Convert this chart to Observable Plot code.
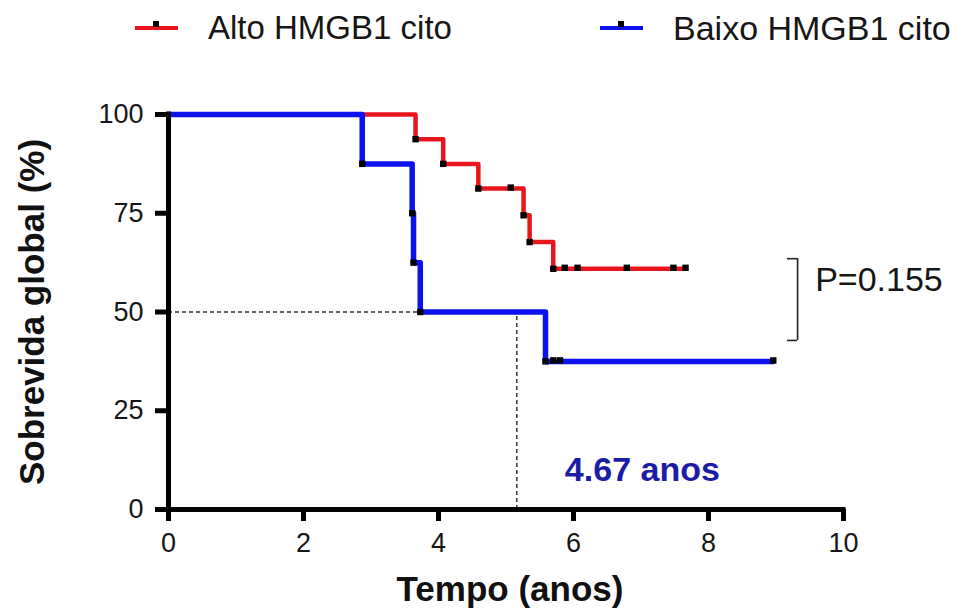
<!DOCTYPE html>
<html><head><meta charset="utf-8">
<script src="https://cdn.jsdelivr.net/npm/d3@7"></script>
<script src="https://cdn.jsdelivr.net/npm/@observablehq/plot@0.6"></script>
<style>
body{margin:0;background:#fff;font-family:"Liberation Sans",Arial,sans-serif;}
#legend{position:relative;height:60px;width:965px;}
.item{position:absolute;top:0;height:56px;display:flex;align-items:center;font-size:33px;color:#161616;white-space:nowrap;}
.sw{position:relative;width:43px;height:4px;margin-right:30px;}
.sw i{position:absolute;left:18px;top:-5px;width:6px;height:6px;background:#000;}
</style></head>
<body>
<div id="legend"></div>
<div id="chart"></div>
<script>
// ---- data ----
const seriesNames = ["Alto HMGB1 cito", "Baixo HMGB1 cito"];
const seriesColors = ["#e8161c", "#0b12ee"];
// Alto HMGB1 cito: step curve (time in years, survival %)
const altoTime = [0, 3.66, 4.07, 4.59, 5.26, 5.35, 5.70, 7.66];
const altoSurv = [100, 93.75, 87.5, 81.25, 74.48, 67.71, 60.94, 60.94];
const altoCensorTime = [5.07, 5.87, 6.06, 6.79, 7.48, 7.66];
const altoCensorSurv = [81.25, 60.94, 60.94, 60.94, 60.94, 60.94];
// Baixo HMGB1 cito
const baixoTime = [0, 2.87, 3.61, 3.63, 3.73, 5.585, 8.96];
const baixoSurv = [100, 87.5, 75, 62.5, 50, 37.5, 37.5];
const baixoCensorTime = [5.70, 5.80, 8.96];
const baixoCensorSurv = [37.5, 37.5, 37.5];
// median reference lines
const medianLevel = [50];
const medianHLineEnd = [3.73];
const medianVLineX = [5.16];
// annotations
const pText = ["P=0.155"];
const pBracketX = [9.32];
const pBracketY = [42.8, 63.5];
const pBracketTickX = [9.17];
const pTextPos = [9.58, 58];
const medianText = ["4.67 anos"];
const medianTextPos = [7.02, 9.9];
// axes
const xTicks = [0, 2, 4, 6, 8, 10];
const yTicks = [0, 25, 50, 75, 100];
const xTitle = "Tempo (anos)";
const yTitle = "Sobrevida global (%)";

// ---- legend ----
const legend = document.getElementById("legend");
const legendLeft = [135, 600];
seriesNames.forEach((n, i) => {
  const d = document.createElement("div");
  d.className = "item";
  d.style.left = legendLeft[i] + "px";
  d.style.fontSize = i === 0 ? "33px" : "34px";
  d.innerHTML = `<span class="sw" style="background:${seriesColors[i]}"><i></i></span><span>${n}</span>`;
  legend.appendChild(d);
});

// ---- tables ----
const alto = altoTime.map((t, i) => ({t, s: altoSurv[i]}));
const baixo = baixoTime.map((t, i) => ({t, s: baixoSurv[i]}));
const events = [
  ...alto.slice(1, -1),
  ...baixo.slice(1, -1)
];
const censors = [
  ...altoCensorTime.map((t, i) => ({t, s: altoCensorSurv[i]})),
  ...baixoCensorTime.map((t, i) => ({t, s: baixoCensorSurv[i]}))
];
const dashed = {stroke: "#333", strokeWidth: 1.5, strokeDasharray: "4,3"};

const chart = Plot.plot({
  width: 965, height: 552,
  marginLeft: 168, marginRight: 122, marginTop: 54, marginBottom: 103,
  x: {domain: [0, 10]},
  y: {domain: [0, 100]},
  style: {fontFamily: "'Liberation Sans', Arial, sans-serif", color: "#161616", background: "#fff", overflow: "visible"},
  marks: [
    Plot.ruleY(medianLevel, {x1: 0, x2: medianHLineEnd[0], ...dashed}),
    Plot.ruleX(medianVLineX, {y1: 0, y2: medianLevel[0], ...dashed}),
    Plot.line(alto, {x: "t", y: "s", curve: "step-after", stroke: seriesColors[0], strokeWidth: 4.5}),
    Plot.line(baixo, {x: "t", y: "s", curve: "step-after", stroke: seriesColors[1], strokeWidth: 5.5}),
    Plot.dot(events, {x: "t", y: "s", symbol: "square", r: 3.6, fill: "#000"}),
    Plot.dot(censors, {x: "t", y: "s", symbol: "square", r: 3.6, fill: "#000", dy: -1}),
    Plot.ruleX(pBracketX, {y1: pBracketY[0], y2: pBracketY[1], stroke: "#222", strokeWidth: 1.6}),
    Plot.ruleY(pBracketY, {x1: pBracketTickX[0], x2: pBracketX[0], stroke: "#222", strokeWidth: 1.6}),
    Plot.text(pText, {x: pTextPos[0], y: pTextPos[1], textAnchor: "start", fontSize: 34, fill: "#161616"}),
    Plot.text(medianText, {x: medianTextPos[0], y: medianTextPos[1], fontSize: 34, fontWeight: "bold", fill: "#1c1ca6"}),
    Plot.ruleX([0], {y1: 0, y2: 100, stroke: "#000", strokeWidth: 5, strokeLinecap: "square"}),
    Plot.ruleY([0], {x1: 0, x2: 10, stroke: "#000", strokeWidth: 5, strokeLinecap: "square"}),
    Plot.axisX(xTicks, {tickSize: 12, strokeWidth: 5, fontSize: 27, tickPadding: 11, label: null, stroke: "#000"}),
    Plot.axisY(yTicks, {tickSize: 13, strokeWidth: 5, fontSize: 27, tickPadding: 12, label: null, stroke: "#000"}),
    Plot.text([yTitle], {frameAnchor: "left", textAnchor: "middle", lineAnchor: "middle", rotate: -90, dx: -136, fontSize: 35, fontWeight: "bold", fill: "#111"}),
    Plot.text([xTitle], {frameAnchor: "bottom", textAnchor: "middle", lineAnchor: "middle", dy: 80, dx: 4, fontSize: 35, fontWeight: "bold", fill: "#111"})
  ]
});
document.getElementById("chart").appendChild(chart);
</script>
</body></html>
